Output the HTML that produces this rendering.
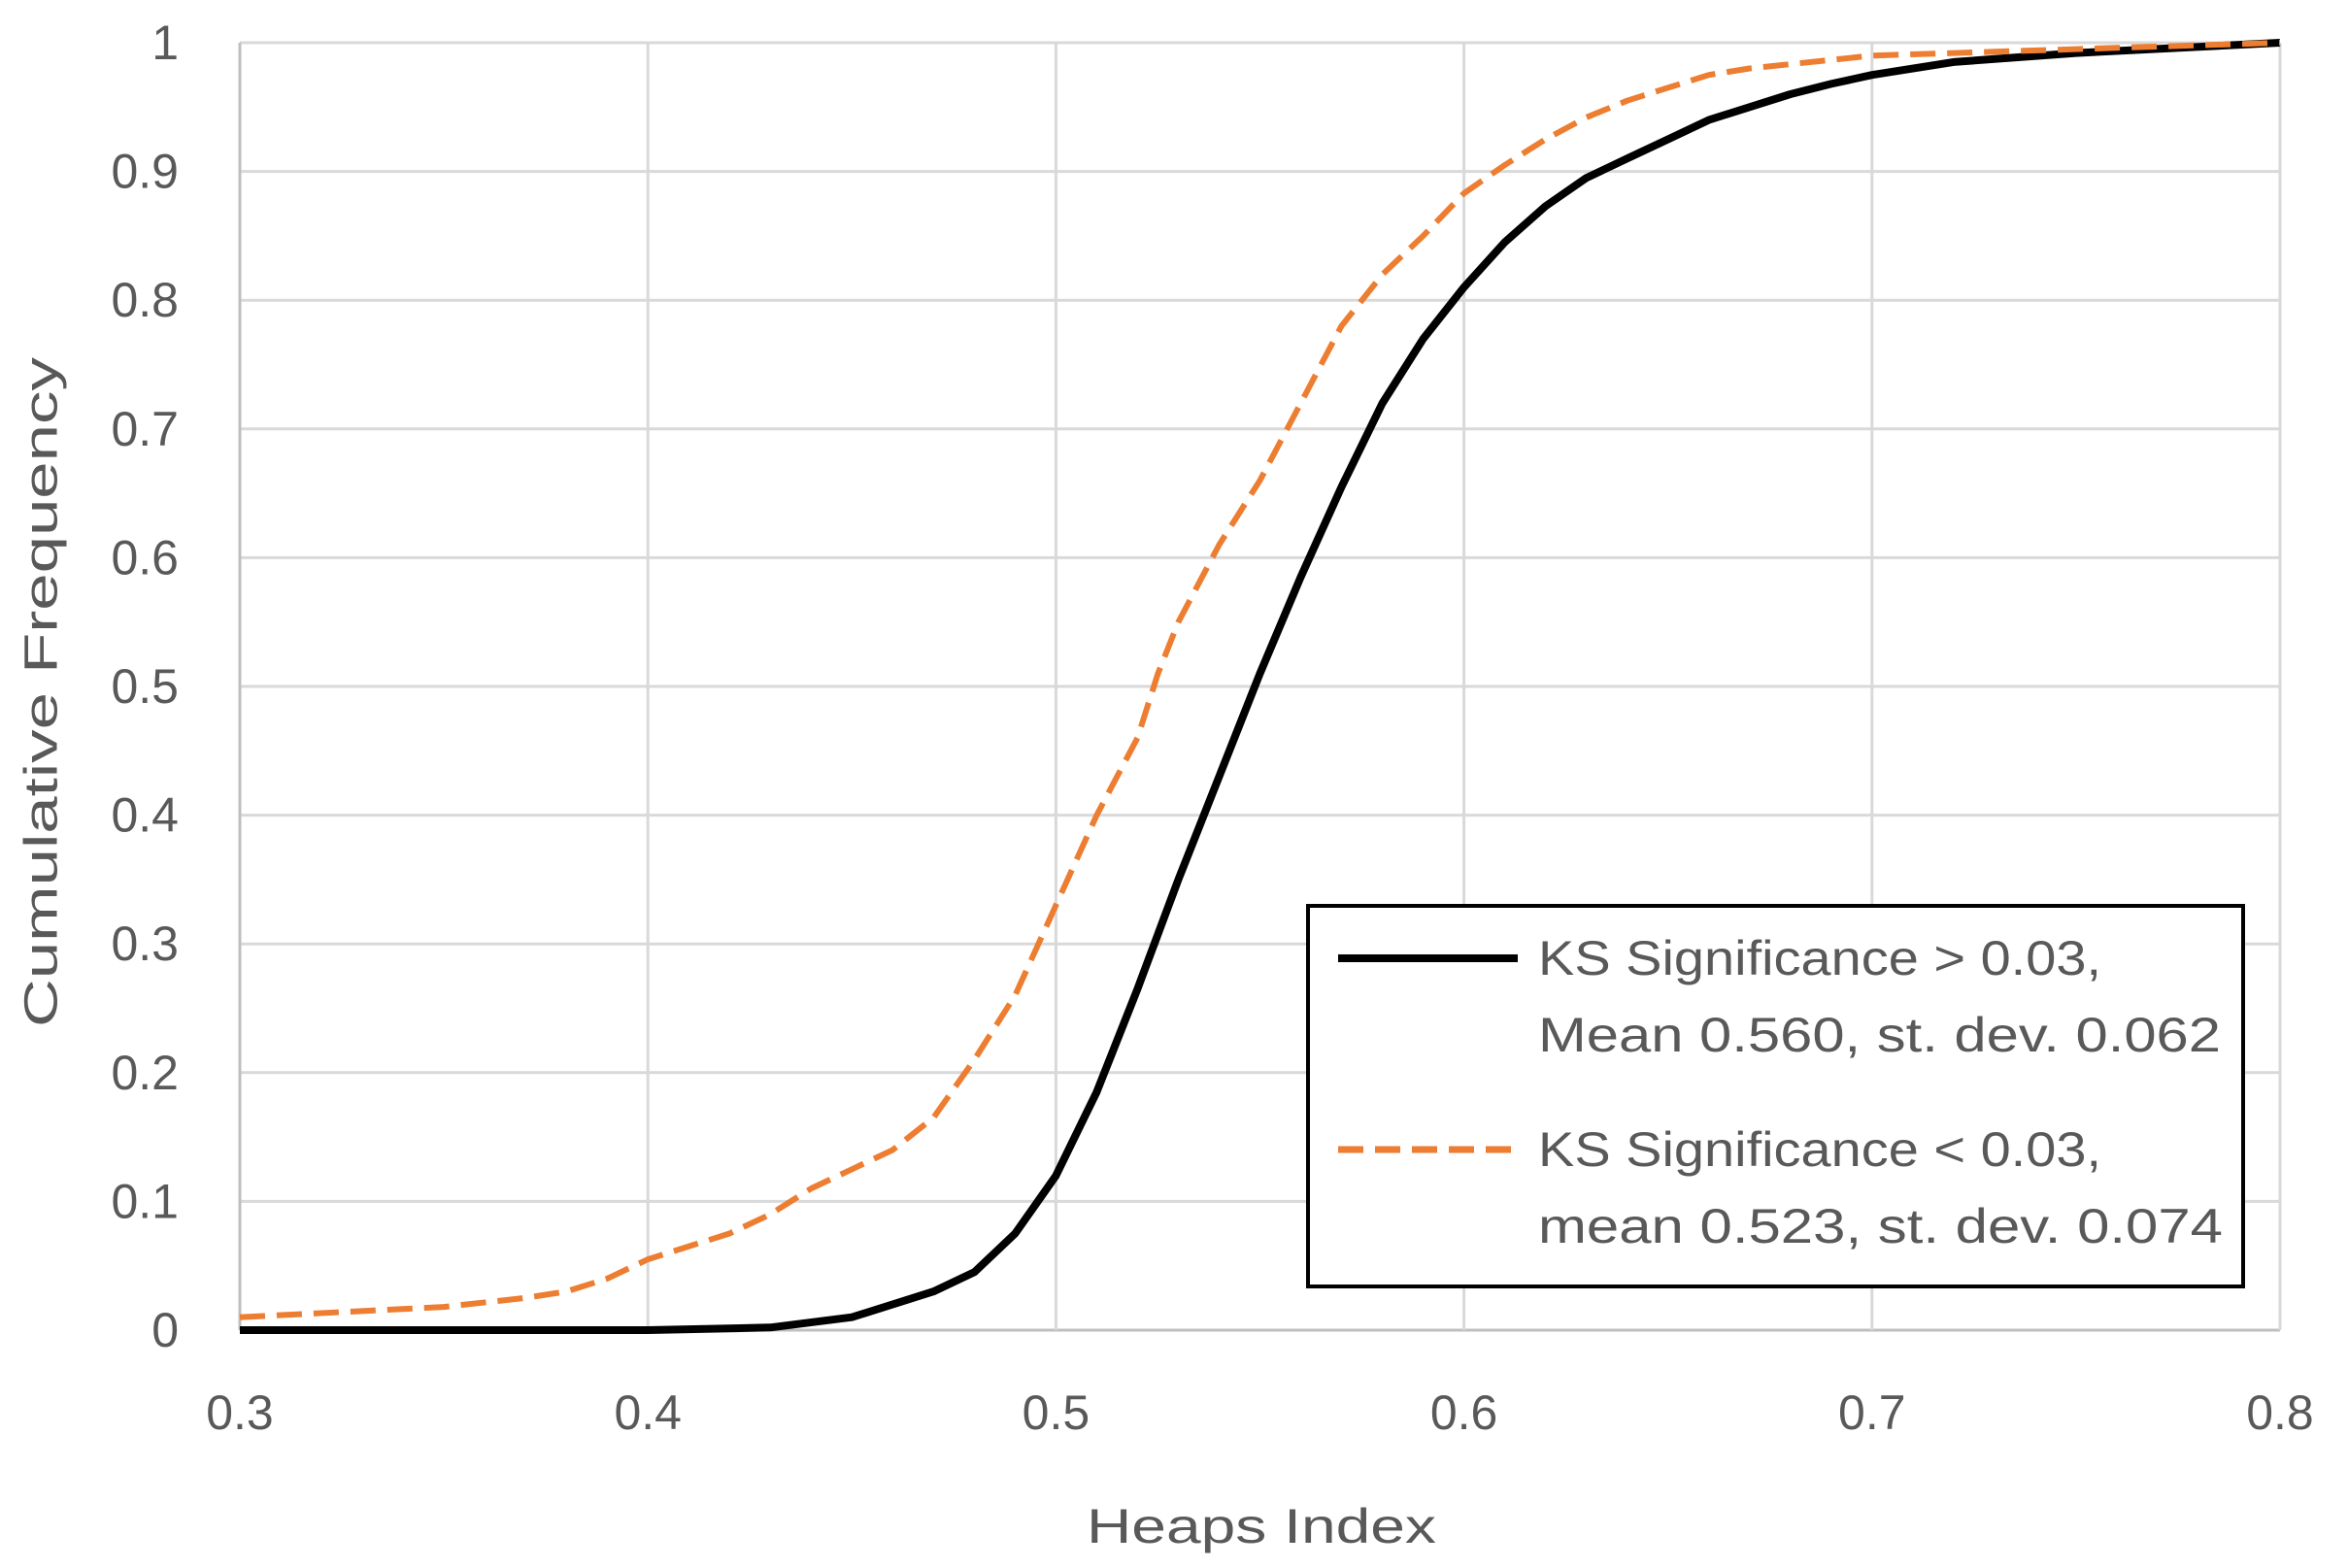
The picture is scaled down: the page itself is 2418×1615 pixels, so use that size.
<!DOCTYPE html>
<html><head><meta charset="utf-8"><style>
html,body{margin:0;padding:0;background:#fff;}
svg{display:block;}
text{font-family:"Liberation Sans",sans-serif;fill:#595959;}
</style></head><body>
<svg id="s" width="2418" height="1615" viewBox="0 0 2418 1615" xmlns="http://www.w3.org/2000/svg">
<rect width="2418" height="1615" fill="#fff"/>
<g id="grid" stroke="#d9d9d9" stroke-width="3"></g>
<g id="labels" font-size="50"></g>
<text x="43" y="713" font-size="48" text-anchor="middle" transform="rotate(-90 43 713)" dominant-baseline="central" textLength="690" lengthAdjust="spacingAndGlyphs">Cumulative Frequency</text>
<text x="1299" y="1572" font-size="50" text-anchor="middle" dominant-baseline="central" textLength="360" lengthAdjust="spacingAndGlyphs">Heaps Index</text>
<polyline id="black" fill="none" stroke="#000" stroke-width="8" stroke-linejoin="round"/>
<polyline id="orange" fill="none" stroke="#ed7d31" stroke-width="6" stroke-dasharray="26,12" stroke-linejoin="round"/>
<rect x="1347" y="933" width="963" height="392" fill="#fff" stroke="#000" stroke-width="4"/>
<line x1="1378" y1="987" x2="1563" y2="987" stroke="#000" stroke-width="8"/>
<line x1="1378" y1="1184" x2="1563" y2="1184" stroke="#ed7d31" stroke-width="7" stroke-dasharray="26,12"/>
<g font-size="50" dominant-baseline="central">
<text x="1584" y="987" textLength="580" lengthAdjust="spacingAndGlyphs">KS Significance &gt; 0.03,</text>
<text x="1584" y="1066" textLength="703" lengthAdjust="spacingAndGlyphs">Mean 0.560, st. dev. 0.062</text>
<text x="1584" y="1184" textLength="580" lengthAdjust="spacingAndGlyphs">KS Significance &lt; 0.03,</text>
<text x="1584" y="1263" textLength="705" lengthAdjust="spacingAndGlyphs">mean 0.523, st. dev. 0.074</text>
</g>
</svg>
<script>
var L=247,R=2348,T=44,B=1370;
function px(x){return L+(x-0.3)/0.5*(R-L);}
function py(y){return B-y*(B-T);}
var ns="http://www.w3.org/2000/svg";
var g=document.getElementById('grid'),lb=document.getElementById('labels');
function el(p,n,a,t){var e=document.createElementNS(ns,n);for(var k in a)e.setAttribute(k,a[k]);if(t)e.textContent=t;p.appendChild(e);return e;}
for(var i=0;i<=10;i++){var y=py(i/10);el(g,'line',{x1:L,x2:R,y1:y,y2:y,stroke:i==0?'#bfbfbf':'#d9d9d9'});
 el(lb,'text',{x:184,y:y,'text-anchor':'end','dominant-baseline':'central'},i==10?'1':(i==0?'0':'0.'+i));}
for(var j=0;j<=5;j++){var x=px(0.3+j*0.1);el(g,'line',{x1:x,x2:x,y1:T,y2:B,stroke:j==0?'#bfbfbf':'#d9d9d9'});
 el(lb,'text',{x:x,y:1455,'text-anchor':'middle','dominant-baseline':'central'},(0.3+j*0.1).toFixed(1));}
var bk=[[0.3,0],[0.4,0],[0.43,0.002],[0.45,0.01],[0.47,0.03],[0.48,0.045],[0.49,0.075],[0.5,0.12],[0.51,0.185],[0.52,0.265],[0.53,0.35],[0.54,0.43],[0.55,0.51],[0.56,0.585],[0.57,0.655],[0.58,0.72],[0.59,0.77],[0.6,0.81],[0.61,0.845],[0.62,0.873],[0.63,0.895],[0.64,0.91],[0.65,0.925],[0.66,0.94],[0.67,0.95],[0.68,0.96],[0.69,0.968],[0.7,0.975],[0.72,0.985],[0.75,0.992],[0.8,1]];
var or=[[0.3,0.01],[0.35,0.018],[0.37,0.025],[0.38,0.03],[0.39,0.04],[0.4,0.055],[0.42,0.075],[0.43,0.09],[0.44,0.11],[0.45,0.125],[0.46,0.14],[0.47,0.165],[0.48,0.21],[0.49,0.26],[0.5,0.33],[0.51,0.40],[0.52,0.46],[0.525,0.51],[0.53,0.55],[0.54,0.61],[0.55,0.66],[0.56,0.72],[0.57,0.78],[0.58,0.82],[0.59,0.85],[0.6,0.883],[0.61,0.905],[0.62,0.925],[0.63,0.942],[0.64,0.955],[0.65,0.965],[0.66,0.975],[0.67,0.98],[0.7,0.99],[0.75,0.995],[0.8,1]];
function pts(a){return a.map(function(p){return px(p[0]).toFixed(1)+','+py(p[1]).toFixed(1);}).join(' ');}
document.getElementById('black').setAttribute('points',pts(bk));
document.getElementById('orange').setAttribute('points',pts(or));
</script>
</body></html>
